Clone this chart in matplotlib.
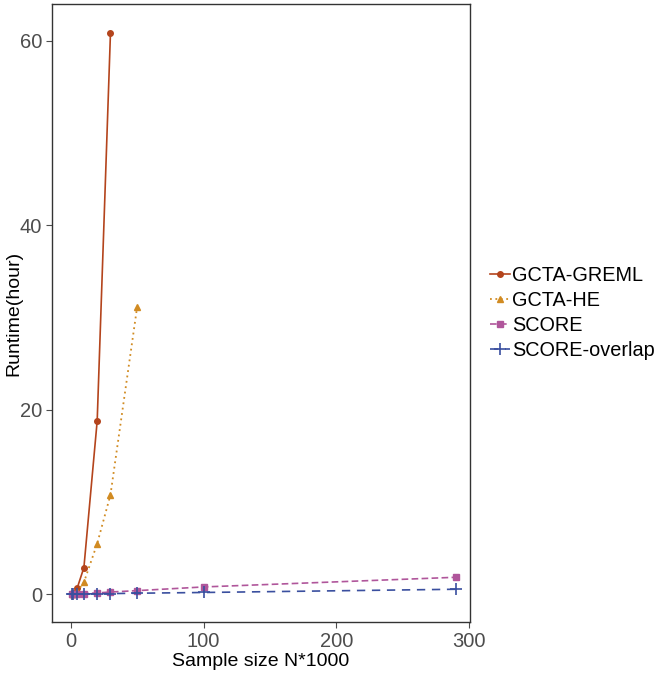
import numpy as np
from matplotlib import pyplot as plt

plt.rcParams['font.family'] = ['Liberation Sans', 'DejaVu Sans']

n_greml = [1, 2, 5, 10, 20, 30]
t_greml = [0.05, 0.15, 0.7, 2.9, 18.8, 60.9]
n_he = [1, 2, 5, 10, 20, 30, 50]
t_he = [0.02, 0.05, 0.3, 1.3, 5.5, 10.8, 31.1]
n_score = [1, 2, 5, 10, 20, 30, 50, 100, 290]
t_score = [0.01, 0.02, 0.04, 0.08, 0.15, 0.25, 0.4, 0.8, 1.85]
n_overlap = [1, 2, 5, 10, 20, 30, 50, 100, 290]
t_overlap = [0.005, 0.01, 0.02, 0.04, 0.06, 0.08, 0.12, 0.2, 0.55]

labels = ["GCTA-GREML", "GCTA-HE", "SCORE", "SCORE-overlap"]


def main():
    fig = plt.figure(figsize=(6.64, 6.73), dpi=100)
    ax = fig.add_axes([52 / 664, 51 / 673, (470 - 52) / 664, (671 - 51 - 2) / 673])

    ax.plot(n_greml, t_greml, color="#b4441c", ls="-", lw=1.2,
            marker="o", ms=4, label=labels[0])
    ax.plot(n_he, t_he, color="#d18b22", ls=(0, (1, 2)), lw=1.3,
            marker="^", ms=5, label=labels[1])
    ax.plot(n_score, t_score, color="#b0569b", ls=(0, (4, 2)), lw=1.2,
            marker="s", ms=4, label=labels[2])
    ax.plot(n_overlap, t_overlap, color="#3a4f9f", ls=(0, (5, 4)), lw=1.2,
            marker="+", ms=8, mew=1.2, label=labels[3])

    ax.set_xlim(-14, 300.5)
    ax.set_ylim(-3, 64)
    ax.set_xticks([0, 100, 200, 300])
    ax.set_yticks([0, 20, 40, 60])
    ax.tick_params(labelsize=14.5, colors="#4d4d4d", length=4, width=0.8, pad=3)
    for lab in ax.get_xticklabels() + ax.get_yticklabels():
        lab.set_color("#4d4d4d")
    for s in ax.spines.values():
        s.set_color("#333333")
        s.set_linewidth(1.0)
    ax.set_xlabel("Sample size N*1000", fontsize=14, labelpad=2)
    ax.set_ylabel("Runtime(hour)", fontsize=14, labelpad=0)
    ax.yaxis.set_label_coords(-30 / 418, 0.5)

    ax.legend(loc="center left", bbox_to_anchor=(1.03, 0.5), frameon=False,
              fontsize=14.3, handlelength=1.0, handletextpad=0.1,
              labelspacing=0.3, borderaxespad=0.0)

    fig.savefig("out.png", dpi=100)


if __name__ == "__main__":
    main()
